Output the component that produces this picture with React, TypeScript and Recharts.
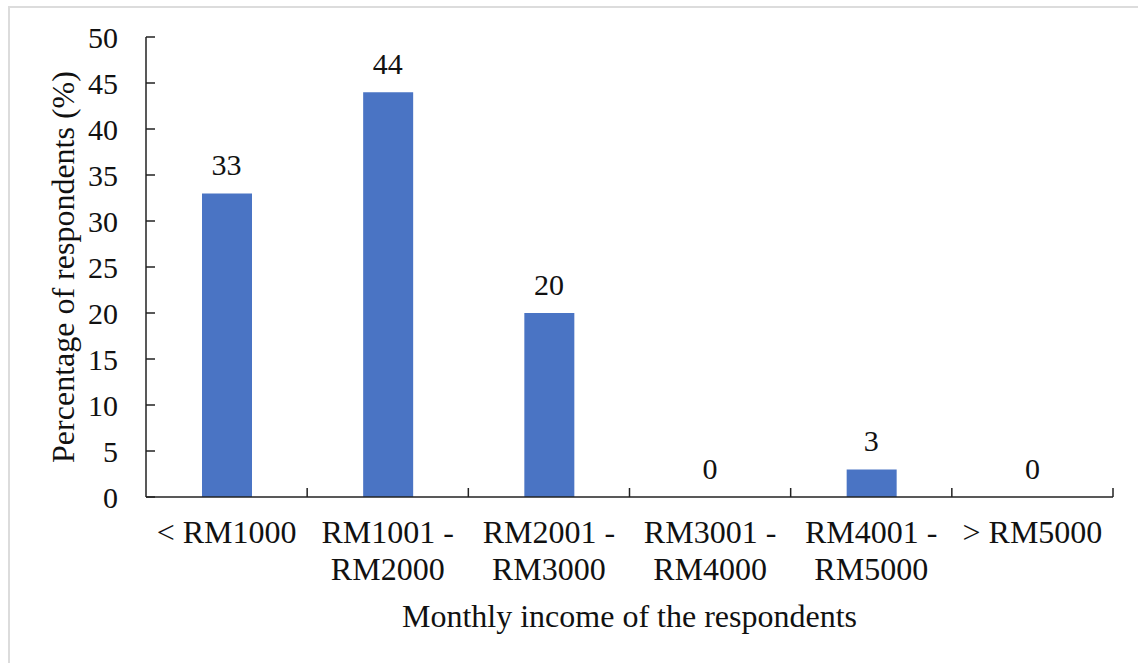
import React from "react";
import { ComposedChart, Bar, Line, XAxis, YAxis, LabelList } from "recharts";

const incomeGroups = [
  "< RM1000",
  "RM1001 - RM2000",
  "RM2001 - RM3000",
  "RM3001 - RM4000",
  "RM4001 - RM5000",
  "> RM5000",
];
const percentages = [33, 44, 20, 0, 3, 0];
const yTicks = [0, 5, 10, 15, 20, 25, 30, 35, 40, 45, 50];

const data = incomeGroups.map((name, i) => ({ name, value: percentages[i] }));

const FONT = "Liberation Serif, DejaVu Serif, serif";
const FS = 32; // words
const FS_NUM = 30; // numbers
const AXIS = "#222";
const TICK_MARGIN_Y = 28;
const TICK_MARGIN_X = 22;
const TICK_LEN = 9;

// ticks in Excel style point inward, so draw them by hand next to the labels
function YTick(props: any) {
  const { x, y, payload } = props;
  const ax = x + TICK_MARGIN_Y;
  return (
    <g>
      <line x1={ax} x2={ax + TICK_LEN} y1={y} y2={y} stroke={AXIS} strokeWidth={1.5} />
      <text x={x} y={y} dy="0.35em" textAnchor="end" style={{ fontFamily: FONT, fontSize: FS_NUM }} fill="#111">
        {payload.value}
      </text>
    </g>
  );
}

function XTick(props: any) {
  const { x, y, payload, visibleTicksCount, width } = props;
  const band = (width || 967) / (visibleTicksCount || 6);
  const ay = y - TICK_MARGIN_X;
  const txt: string = payload.value;
  const parts = txt.includes(" - ") ? [txt.split(" - ")[0] + " -", txt.split(" - ")[1]] : [txt];
  return (
    <g>
      <line x1={x + band / 2} x2={x + band / 2} y1={ay} y2={ay - TICK_LEN} stroke={AXIS} strokeWidth={1.5} />
      <text x={x} y={y} textAnchor="middle" style={{ fontFamily: FONT, fontSize: FS }} fill="#111">
        {parts.map((p, i) => (
          <tspan key={i} x={x} dy={i === 0 ? "0.74em" : 37}>
            {p}
          </tspan>
        ))}
      </text>
    </g>
  );
}

function YTitle(props: any) {
  const { viewBox } = props;
  const cx = viewBox.x + 27;
  const cy = viewBox.y + viewBox.height / 2;
  return (
    <text
      x={cx}
      y={cy}
      dy="0.35em"
      transform={`rotate(-90, ${cx}, ${cy})`}
      textAnchor="middle"
      style={{ fontFamily: FONT, fontSize: FS }}
      fill="#111"
    >
      Percentage of respondents (%)
    </text>
  );
}

export default function App() {
  return (
    <div style={{ position: "absolute", left: 0, top: 0, width: 1138, height: 663, background: "#fff", fontFamily: FONT }}>
      <div
        style={{
          position: "absolute",
          left: 8,
          top: 6,
          right: 0,
          bottom: 0,
          borderLeft: "2px solid #dcdcdc",
          borderTop: "2px solid #dcdcdc",
        }}
      />
      <div style={{ position: "absolute", left: 0, top: 0 }}>
        <ComposedChart
          width={1138}
          height={663}
          data={data}
          margin={{ top: 37, right: 25, left: 36, bottom: 26 }}
          barSize={50}
        >
          <XAxis
            dataKey="name"
            height={140}
            interval={0}
            axisLine={{ stroke: AXIS, strokeWidth: 1.5 }}
            tickLine={false}
            tickSize={0}
            tickMargin={TICK_MARGIN_X}
            tick={<XTick />}
            label={{
              value: "Monthly income of the respondents",
              position: "insideBottom",
              offset: 10,
              style: { fontFamily: FONT, fontSize: FS, fill: "#111" },
            }}
          />
          <YAxis
            width={110}
            domain={[0, 50]}
            ticks={yTicks}
            interval={0}
            axisLine={{ stroke: AXIS, strokeWidth: 1.5 }}
            tickLine={false}
            tickSize={0}
            tickMargin={TICK_MARGIN_Y}
            tick={<YTick />}
            label={<YTitle />}
          />
          <Bar dataKey="value" fill="#4a74c4" isAnimationActive={false} />
          {/* invisible series so that zero values get their labels too */}
          <Line
            dataKey="value"
            stroke="none"
            dot={false}
            activeDot={false}
            legendType="none"
            isAnimationActive={false}
          >
            <LabelList
              dataKey="value"
              position="top"
              offset={18}
              style={{ fontFamily: FONT, fontSize: FS_NUM, fill: "#111" }}
            />
          </Line>
        </ComposedChart>
      </div>
    </div>
  );
}
